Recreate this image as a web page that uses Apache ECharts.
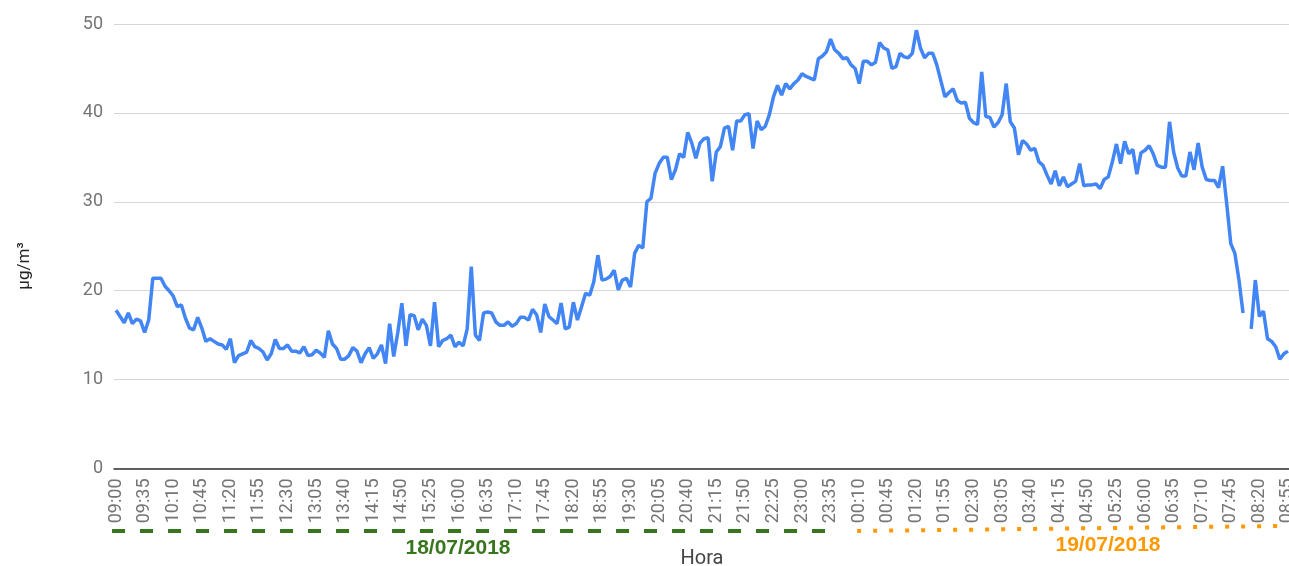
<!DOCTYPE html>
<html>
<head>
<meta charset="utf-8">
<script src="https://cdn.jsdelivr.net/npm/echarts@6/dist/echarts.min.js"></script>
<style>html,body{margin:0;padding:0;background:#fff;overflow:hidden}#c{width:1289px;height:566px}</style>
</head>
<body>
<div id="c"></div>
<script>
// Hourly categories: 5-minute steps from 09:00 (18/07/2018) to 08:55 (19/07/2018)
const startMinutes = 9 * 60;
const stepMinutes = 5;
const pointCount = 288;
const times = [];
for (let k = 0; k < pointCount; k++) {
  const m = (startMinutes + k * stepMinutes) % 1440;
  times.push(String(Math.floor(m / 60)).padStart(2, '0') + ':' + String(m % 60).padStart(2, '0'));
}

// PM values (µg/m³)
const values = [
  17.8,17.1,16.4,17.5,16.3,16.8,16.6,15.3,16.7,21.4,
  21.4,21.4,20.5,20.0,19.4,18.2,18.4,16.9,15.8,15.6,
  17.0,15.8,14.3,14.6,14.3,14.0,13.9,13.4,14.6,11.9,
  12.7,12.9,13.1,14.4,13.7,13.5,13.1,12.2,12.9,14.5,
  13.5,13.5,13.9,13.2,13.2,13.0,13.7,12.7,12.8,13.3,
  13.0,12.5,15.5,14.0,13.5,12.3,12.3,12.7,13.6,13.2,
  11.9,12.9,13.6,12.4,12.9,13.9,11.8,16.3,12.6,15.3,
  18.6,13.8,17.3,17.2,15.6,16.8,16.1,13.8,18.7,13.7,
  14.4,14.6,15.0,13.7,14.2,13.8,15.7,22.7,15.0,14.4,
  17.5,17.6,17.5,16.5,16.1,16.1,16.5,16.0,16.3,17.0,
  17.0,16.7,17.9,17.3,15.3,18.5,17.1,16.7,16.3,18.6,
  15.7,15.9,18.7,16.7,18.2,19.7,19.5,21.0,24.0,21.2,
  21.3,21.6,22.3,20.1,21.2,21.4,20.4,24.2,25.1,24.8,
  30.0,30.4,33.2,34.3,35.0,35.0,32.5,33.6,35.4,35.0,
  37.8,36.6,34.9,36.6,37.1,37.2,32.3,35.6,36.2,38.3,
  38.5,35.8,39.1,39.1,39.8,39.9,36.0,39.1,38.1,38.5,
  39.8,41.8,43.1,42.0,43.3,42.7,43.3,43.7,44.4,44.1,
  43.9,43.7,46.1,46.4,46.9,48.3,47.1,46.7,46.1,46.2,
  45.4,45.0,43.3,45.8,45.8,45.4,45.7,47.9,47.3,47.1,
  45.0,45.2,46.7,46.3,46.2,46.7,49.3,47.3,46.2,46.7,
  46.7,45.4,43.6,41.8,42.3,42.7,41.4,41.1,41.2,39.4,
  38.9,38.7,44.6,39.6,39.5,38.4,38.9,39.8,43.3,39.0,
  38.3,35.3,36.9,36.5,35.8,36.0,34.5,34.1,33.0,32.0,
  33.5,31.8,32.8,31.7,32.0,32.3,34.3,31.8,31.9,31.9,
  32.0,31.5,32.5,32.8,34.5,36.5,34.3,36.8,35.4,35.9,
  33.1,35.5,35.8,36.3,35.4,34.1,33.9,33.9,39.0,35.6,
  33.8,32.9,32.9,35.6,33.6,36.6,33.9,32.5,32.4,32.4,
  31.6,34.0,29.8,25.3,24.2,21.2,17.5,null,15.7,21.2,
  17.1,17.7,14.6,14.3,13.7,12.3,12.9,13.2
];

const yTicks = { min: 0, max: 50, interval: 10 };
const dayLabels = ['18/07/2018', '19/07/2018'];
const dayRanges = [['09:00', '23:30'], ['00:05', '08:55']];

const chart = echarts.init(document.getElementById('c'), null, { renderer: 'canvas' });

chart.setOption({
  animation: false,
  backgroundColor: '#ffffff',
  grid: { left: 114, top: 24, width: 1176, height: 444.5, containLabel: false, outerBoundsMode: 'none' },
  xAxis: {
    type: 'category',
    data: times,
    boundaryGap: true,
    name: 'Hora',
    nameLocation: 'middle',
    nameGap: 80,
    nameTextStyle: { color: '#444444', fontSize: 20, fontFamily: 'Roboto' },
    axisLine: { lineStyle: { color: '#333333', width: 1.5 } },
    axisTick: { show: false },
    axisLabel: {
      interval: 6,
      rotate: 90,
      margin: 10,
      color: '#757575',
      fontSize: 18,
      fontFamily: 'Roboto'
    },
    splitLine: { show: false }
  },
  yAxis: {
    type: 'value',
    min: yTicks.min,
    max: yTicks.max,
    interval: yTicks.interval,
    axisLine: { show: false },
    axisTick: { show: false },
    axisLabel: { color: '#757575', fontSize: 18, fontFamily: 'Roboto', margin: 11 },
    splitLine: { lineStyle: { color: '#d6d6d6', width: 1.2 } }
  },
  series: [{
    type: 'line',
    data: values,
    showSymbol: false,
    connectNulls: false,
    lineStyle: { color: '#4285F4', width: 3.5 },
    itemStyle: { color: '#4285F4' },
    z: 3
  }]
});

// Annotation: day bands under the time labels, positioned via the axis scale
const p = (t) => chart.convertToPixel({ xAxisIndex: 0 }, t);
const g1 = [p(dayRanges[0][0]) - 4, p(dayRanges[0][1])];
const g2 = [p(dayRanges[1][0]) + 2, p(dayRanges[1][1]) - 8];

chart.setOption({
  graphic: [
    {
      type: 'text', x: 25, y: 266, rotation: Math.PI / 2,
      style: { text: 'µg/m³', fill: '#222222', font: '17px Roboto', align: 'center', verticalAlign: 'middle' }
    },
    {
      type: 'line', shape: { x1: g1[0], y1: 531, x2: g1[1], y2: 531 },
      style: { stroke: '#38761d', lineWidth: 4, lineDash: [13, 15] }
    },
    {
      type: 'line', shape: { x1: g2[0], y1: 531, x2: g2[1], y2: 526 },
      style: { stroke: '#ff9900', lineWidth: 4, lineDash: [4, 12] }
    },
    {
      type: 'text', x: 458, y: 548,
      style: { text: dayLabels[0], fill: '#38761d', font: 'bold 21px "Liberation Sans"', align: 'center', verticalAlign: 'middle' }
    },
    {
      type: 'text', x: 1108, y: 545,
      style: { text: dayLabels[1], fill: '#ff9900', font: 'bold 21px "Liberation Sans"', align: 'center', verticalAlign: 'middle' }
    }
  ]
});
</script>
</body>
</html>
